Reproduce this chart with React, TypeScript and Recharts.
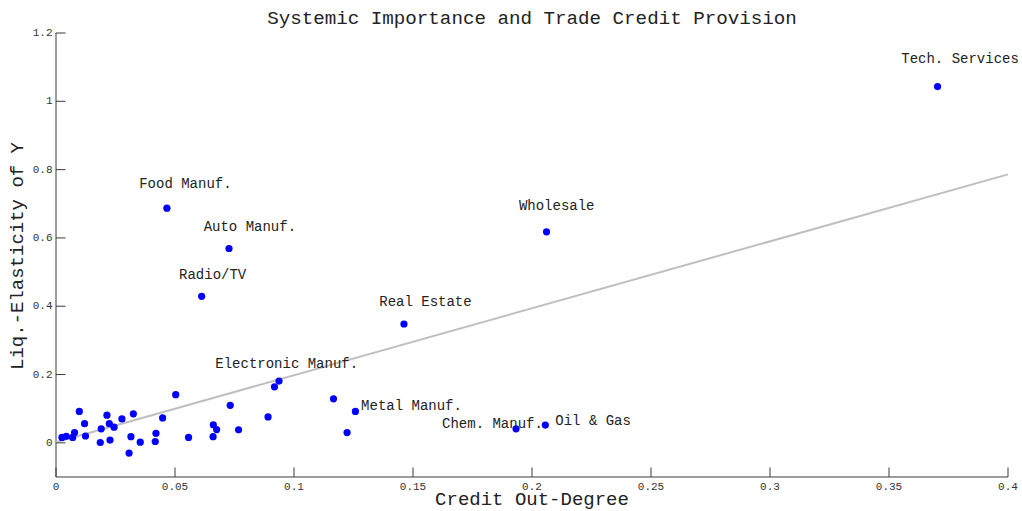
import React from 'react';
import { ScatterChart, Scatter, XAxis, YAxis } from 'recharts';

// ---- data ----
const names: string[] = [
  '', '', '', '', '', '', '', '', '', '',
  '', '', '', '', '', '', '', '', '', '',
  '', '', '', '', '', '', '', '', '', '',
  '', '',
  'Electronic Manuf.', 'Metal Manuf.', 'Food Manuf.', 'Auto Manuf.', 'Radio/TV',
  'Wholesale', 'Real Estate', 'Tech. Services', 'Chem. Manuf.', 'Oil & Gas',
];
const xs: number[] = [
  0.0025, 0.0043, 0.0070, 0.0078, 0.0098, 0.0120, 0.0124, 0.0186, 0.0190, 0.0214,
  0.0224, 0.0227, 0.0244, 0.0277, 0.0307, 0.0315, 0.0325, 0.0354, 0.0417, 0.0420,
  0.0448, 0.0503, 0.0557, 0.0660, 0.0661, 0.0675, 0.0732, 0.0767, 0.0891, 0.0918,
  0.1166, 0.1223,
  0.0937, 0.1258, 0.0466, 0.0727, 0.0612,
  0.2061, 0.1462, 0.3704, 0.1933, 0.2056,
];
const ys: number[] = [
  0.016, 0.019, 0.016, 0.030, 0.092, 0.056, 0.020, 0.001, 0.041, 0.081,
  0.056, 0.008, 0.046, 0.070, -0.030, 0.018, 0.085, 0.002, 0.004, 0.028,
  0.073, 0.141, 0.016, 0.018, 0.053, 0.039, 0.110, 0.038, 0.076, 0.164,
  0.129, 0.030,
  0.181, 0.092, 0.687, 0.569, 0.429,
  0.618, 0.348, 1.043, 0.041, 0.052,
];
const fitX: number[] = [0, 0.4];
const fitY: number[] = [0.002, 0.786];
const xTicks: number[] = [0, 0.05, 0.1, 0.15, 0.2, 0.25, 0.3, 0.35, 0.4];
const yTicks: number[] = [0, 0.2, 0.4, 0.6, 0.8, 1, 1.2];

const TITLE = 'Systemic Importance and Trade Credit Provision';
const X_LABEL = 'Credit Out-Degree';
const Y_LABEL = 'Liq.-Elasticity of Y';

// ---- layout config (pixel offsets of annotation text relative to its point) ----
const labelOffsets: Record<string, [number, number]> = {
  'Food Manuf.': [-27.7, -24.7],
  'Auto Manuf.': [-25.4, -21.3],
  'Radio/TV': [-22.6, -21],
  'Wholesale': [-27.6, -25.6],
  'Real Estate': [-24.7, -22.3],
  'Tech. Services': [-36.3, -27.7],
  'Electronic Manuf.': [-63.7, -17.3],
  'Metal Manuf.': [5.7, -5],
  'Chem. Manuf.': [-74, -5.3],
  'Oil & Gas': [10, -4],
};

const points = xs.map((x, i) => ({ x, y: ys[i], name: names[i] }));
const fitData = fitX.map((x, i) => ({ x, y: fitY[i] }));

const FONT = '"Liberation Mono", "Courier New", monospace';
const AXIS_COLOR = '#3a3a3a';

const XTick = (props: any) => {
  const { x, y, payload } = props;
  return (
    <g>
      <line x1={x} y1={y} x2={x} y2={y - 9.5} stroke={AXIS_COLOR} strokeWidth={1} />
      <text x={x} y={y + 9.5} textAnchor="middle" dominantBaseline="central"
        fontFamily={FONT} fontSize={11} fill="#333">{String(payload.value)}</text>
    </g>
  );
};

const YTick = (props: any) => {
  const { x, y, payload } = props;
  return (
    <g>
      <line x1={x} y1={y} x2={x + 9.5} y2={y} stroke={AXIS_COLOR} strokeWidth={1} />
      <text x={x - 3.5} y={y} textAnchor="end" dominantBaseline="central"
        fontFamily={FONT} fontSize={11} fill="#333">{String(payload.value)}</text>
    </g>
  );
};

const Dot = (props: any) => {
  const { cx, cy, payload } = props;
  const name: string = payload && payload.name ? payload.name : '';
  const off = labelOffsets[name];
  return (
    <g>
      <circle cx={cx} cy={cy} r={3.6} fill="#0000ff" />
      {name && off ? (
        <text x={cx + off[0]} y={cy + off[1]} dominantBaseline="central"
          fontFamily={FONT} fontSize={14} fill="#222" style={{ whiteSpace: 'pre' }}>{name}</text>
      ) : null}
    </g>
  );
};

export default function App() {
  return (
    <div style={{ position: 'absolute', left: 0, top: 0, width: 1022, height: 511, background: '#fff' }}>
      <ScatterChart width={1022} height={511} margin={{ top: 33, right: 14, bottom: 4, left: 0 }}>
        <XAxis type="number" dataKey="x" domain={[0, 0.4]} ticks={xTicks}
          height={30} tickSize={0} tickMargin={0} tickLine={false}
          axisLine={{ stroke: AXIS_COLOR, strokeWidth: 1 }} tick={<XTick />} interval={0} />
        <YAxis type="number" dataKey="y" domain={[-0.1, 1.2]} ticks={yTicks}
          width={56} tickSize={0} tickMargin={0} tickLine={false}
          axisLine={{ stroke: AXIS_COLOR, strokeWidth: 1 }} tick={<YTick />} interval={0} />
        <Scatter data={fitData} line={{ stroke: '#bfbfbf', strokeWidth: 2 }} shape={() => <g />}
          isAnimationActive={false} />
        <Scatter data={points} shape={<Dot />} isAnimationActive={false} />
      </ScatterChart>
      <svg width={1022} height={511} style={{ position: 'absolute', left: 0, top: 0, pointerEvents: 'none' }}>
        <text x={532} y={19} textAnchor="middle" dominantBaseline="central"
          fontFamily={FONT} fontSize={19.2} fill="#222">{TITLE}</text>
        <text x={532} y={500} textAnchor="middle" dominantBaseline="central"
          fontFamily={FONT} fontSize={19} fill="#222">{X_LABEL}</text>
        <text x={18} y={256} textAnchor="middle" dominantBaseline="central"
          transform="rotate(-90 18 256)" fontFamily={FONT} fontSize={19} fill="#222">{Y_LABEL}</text>
      </svg>
    </div>
  );
}
